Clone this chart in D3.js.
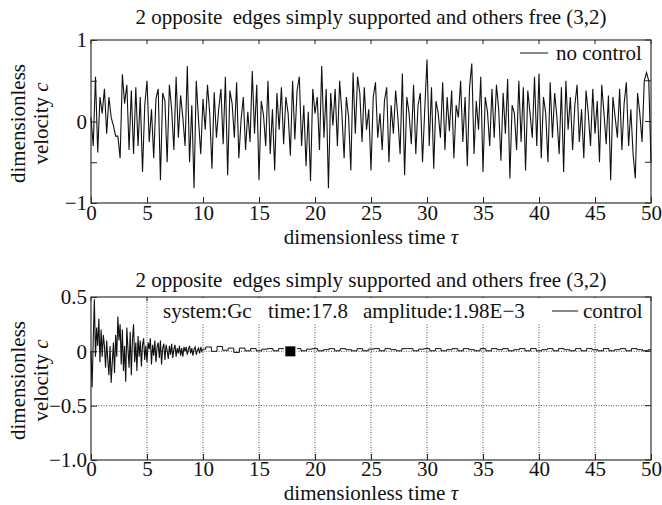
<!DOCTYPE html>
<html>
<head>
<meta charset="utf-8">
<script src="https://cdn.jsdelivr.net/npm/d3@7"></script>
<style>
  body { margin: 0; background: #fff; }
</style>
</head>
<body>
<svg id="chart" width="662" height="505"></svg>
<script>
// ---- data -------------------------------------------------------------
const panelTitle = "2 opposite\u00a0 edges simply supported and others free (3,2)";
const xTicks = [0, 5, 10, 15, 20, 25, 30, 35, 40, 45, 50];

const topYTicks = [-1, -0.5, 0, 0.5, 1];
const topYLabels = ["\u22121", "", "0", "", "1"];
const bottomYTicks = [-1, -0.5, 0, 0.5];
const bottomYLabels = ["\u22121.0", "\u22120.5", "0", "0.5"];

// uncontrolled response, sampled every 0.2 time units from 0 to 50
const noControlStep = 0.2;
const noControl = [
  0.05, -0.3, 0.55, -0.38, 0.3, 0.1, 0.4, -0.15, 0.3, 0.05,
  -0.05, -0.18, -0.18, -0.45, 0.58, 0.22, 0.45, -0.35, 0.38, -0.4,
  0.42, -0.3, 0.3, -0.62, 0.2, 0.5, -0.25, 0.15, -0.45, 0.28,
  0.4, -0.72, 0.35, 0.25, -0.5, 0.45, 0.15, -0.35, 0.55, -0.2,
  0.32, 0.05, -0.3, 0.68, -0.5, 0.2, -0.82, 0.5, 0.02, -0.4,
  0.28, -0.1, 0.45, 0.1, -0.58, 0.36, -0.2, 0.15, 0.4, -0.28,
  0.55, -0.66, 0.38, 0.22, -0.2, 0.48, -0.45, 0.02, 0.3, -0.35,
  0.12, -0.25, 0.62, -0.15, 0.45, -0.72, 0.25, 0.08, -0.3, 0.5,
  -0.4, 0.15, -0.6, 0.35, -0.1, 0.42, -0.28, 0.3, 0.1, -0.42,
  0.5, -0.22, 0.38, 0.55, -0.3, 0.2, -0.55, 0.12, -0.73, 0.4,
  0.1, 0.3, -0.35, 0.68, -0.2, 0.4, -0.82, 0.35, -0.05, 0.4,
  -0.3, 0.5, 0.1, -0.45, 0.3, 0.05, -0.6, 0.6, -0.15, 0.55,
  0.35, -0.25, 0.42, -0.1, 0.15, -0.6, 0.3, 0.48, -0.2, 0.1,
  -0.35, 0.25, 0.42, -0.5, 0.2, -0.15, 0.38, 0.05, -0.4, 0.59,
  -0.66, 0.3, 0.1, -0.28, 0.45, -0.4, 0.2, 0.35, -0.5, 0.15,
  0.76, -0.3, 0.42, -0.58, 0.25, 0.1, -0.2, 0.48, -0.35, 0.3,
  -0.12, 0.38, -0.45, 0.2, 0.05, 0.5, -0.25, 0.3, -0.55, 0.42,
  0.71, -0.4, 0.25, -0.1, 0.55, -0.62, 0.3, 0.12, -0.3, 0.4,
  -0.2, 0.45, 0.15, -0.48, 0.35, -0.15, 0.52, -0.7, 0.2, 0.1,
  -0.35, 0.5, -0.25, 0.42, -0.6, 0.38, 0.1, -0.2, 0.55, -0.3,
  0.59, -0.45, 0.3, 0.1, -0.5, 0.48, -0.2, 0.35, 0.05, -0.4,
  0.42, -0.62, 0.5, -0.1, 0.3, -0.35, 0.2, 0.45, -0.25, 0.15,
  -0.45, 0.38, 0.1, -0.3, 0.4, -0.15, 0.25, -0.5, 0.45, 0.1,
  -0.28, 0.32, -0.72, 0.3, 0.05, -0.2, 0.4, -0.35, 0.22, 0.48,
  -0.3, 0.15, -0.4, -0.7, 0.35, 0.1, -0.25, 0.5, 0.6, 0.5,
  -0.5
];

// controlled response: transient part every 0.1 from 0 to 10
const ctrlEarlyStep = 0.1;
const ctrlEarly = [
  0.0, -0.33, 0.1, 0.48, -0.05, 0.22, 0.05, 0.3, -0.1, 0.2,
  -0.05, 0.15, 0.05, -0.15, 0.1, -0.08, -0.22, 0.05, -0.29, -0.1,
  0.08, -0.2, 0.15, -0.05, 0.32, 0.1, 0.25, -0.12, 0.2, -0.18,
  0.05, -0.28, 0.22, 0.02, -0.15, 0.18, -0.22, 0.1, 0.25, -0.1,
  0.08, -0.18, 0.14, -0.05, 0.1, -0.14, 0.06, 0.12, -0.08, 0.05,
  -0.1, 0.08, 0.02, 0.12, -0.12, 0.06, -0.04, 0.1, -0.1, 0.04,
  0.08, -0.06, 0.1, -0.12, 0.03, 0.07, -0.08, 0.06, 0.01, -0.07,
  0.05, -0.03, 0.07, -0.06, 0.02, 0.06, -0.05, 0.03, -0.02, 0.05,
  -0.04, 0.03, -0.05, 0.04, 0.0, 0.04, -0.03, 0.02, 0.05, -0.02,
  0.03, -0.04, 0.02, 0.04, -0.03, 0.01, 0.03, -0.02, 0.04, 0.0,
  0.02
];
// residual part every 0.5 from 10 to 50
const ctrlLateStart = 10;
const ctrlLateStep = 0.5;
const ctrlLate = [
  0.02, 0.04, 0.0, 0.045, 0.01, 0.03, -0.01, 0.03, 0.005, 0.025,
  0.005, 0.02, 0.025, 0.005, 0.025, 0.015, 0.005, 0.025, 0.005, 0.02,
  0.025, 0.005, 0.015, 0.025, 0.005, 0.025, 0.015, 0.005, 0.025, 0.005,
  0.02, 0.025, 0.005, 0.025, 0.015, 0.005, 0.025, 0.025, 0.005, 0.02,
  0.025, 0.005, 0.025, 0.005, 0.015, 0.025, 0.005, 0.025, 0.015, 0.005,
  0.025, 0.005, 0.025, 0.015, 0.025, 0.005, 0.015, 0.025, 0.005, 0.025,
  0.005, 0.015, 0.025, 0.005, 0.025, 0.015, 0.005, 0.025, 0.005, 0.025,
  0.015, 0.005, 0.025, 0.005, 0.015, 0.025, 0.005, 0.025, 0.015, 0.005,
  0.015
];
const markerTime = 17.8;
const markerValue = 0;
const infoLabels = ["system:Gc", "time:17.8", "amplitude:1.98E\u22123"];
const topLegend = "no control";
const bottomLegend = "control";

// ---- layout -----------------------------------------------------------
const svg = d3.select("#chart");
const FS = 21;
const x = d3.scaleLinear([0, 50], [91, 651]);

const panels = [
  { y: d3.scaleLinear([-1, 1], [203, 40]), ticks: topYTicks, labels: topYLabels, titleY: 24, xlabDy: 41, tickPad: 2, grid: false },
  { y: d3.scaleLinear([-1, 0.5], [460, 297]), ticks: bottomYTicks, labels: bottomYLabels, titleY: 287, xlabDy: 40, tickPad: 1, grid: true }
];

function styleText(sel) {
  return sel.style("font-family", "'Liberation Serif'").style("font-size", FS + "px").style("fill", "#111");
}

function drawFrame(p) {
  const [y0, y1] = p.y.range();
  const g = svg.append("g");
  if (p.grid) {
    g.selectAll("line.gx").data(xTicks.slice(1, -1)).join("line")
      .attr("x1", d => x(d)).attr("x2", d => x(d))
      .attr("y1", y1).attr("y2", y0)
      .attr("stroke", "#222").attr("stroke-width", 0.8).attr("stroke-dasharray", "1,1.5");
    g.selectAll("line.gy").data(p.ticks.slice(1, -1)).join("line")
      .attr("x1", x(0)).attr("x2", x(50))
      .attr("y1", d => p.y(d)).attr("y2", d => p.y(d))
      .attr("stroke", "#222").attr("stroke-width", 0.8).attr("stroke-dasharray", "1,1.5");
  }
  // bottom axis with inward ticks
  const ax = svg.append("g").attr("transform", `translate(0,${y0})`)
    .call(d3.axisBottom(x).tickValues(xTicks).tickSizeInner(-6).tickSizeOuter(0).tickPadding(p.tickPad).tickFormat(d3.format("d")));
  ax.select(".domain").remove();
  ax.selectAll(".tick line").attr("stroke", "#222");
  styleText(ax.selectAll("text"));
  // top ticks
  svg.append("g").selectAll("line").data(xTicks).join("line")
    .attr("x1", d => x(d)).attr("x2", d => x(d)).attr("y1", y1).attr("y2", y1 + 4)
    .attr("stroke", "#222");
  // left axis
  const ay = svg.append("g").attr("transform", `translate(${x(0)},0)`)
    .call(d3.axisLeft(p.y).tickValues(p.ticks).tickSizeInner(-6).tickSizeOuter(0).tickPadding(4)
      .tickFormat((d, i) => p.labels[i]));
  ay.select(".domain").remove();
  ay.selectAll(".tick line").attr("stroke", "#222");
  styleText(ay.selectAll("text"));
  // right ticks
  svg.append("g").selectAll("line").data(p.ticks).join("line")
    .attr("x1", x(50)).attr("x2", x(50) - 6).attr("y1", d => p.y(d)).attr("y2", d => p.y(d))
    .attr("stroke", "#222");
  // box
  svg.append("rect").attr("x", x(0)).attr("y", y1).attr("width", x(50) - x(0)).attr("height", y0 - y1)
    .attr("fill", "none").attr("stroke", "#333").attr("stroke-width", 1.2);
  // title
  styleText(svg.append("text").attr("x", (x(0) + x(50)) / 2).attr("y", p.titleY)
    .attr("text-anchor", "middle").text(panelTitle));
  // x label
  const xl = styleText(svg.append("text").attr("x", (x(0) + x(50)) / 2).attr("y", y0 + p.xlabDy)
    .attr("text-anchor", "middle"));
  xl.append("tspan").text("dimensionless time ");
  xl.append("tspan").style("font-style", "italic").text("\u03c4");
  // y label (two lines)
  const cy = (y0 + y1) / 2 + 2;
  styleText(svg.append("text").attr("transform", `translate(25,${cy}) rotate(-90)`)
    .attr("text-anchor", "middle").text("dimensionless"));
  const yl = styleText(svg.append("text").attr("transform", `translate(48,${cy}) rotate(-90)`)
    .attr("text-anchor", "middle"));
  yl.append("tspan").text("velocity ");
  yl.append("tspan").style("font-style", "italic").text("c");
}

panels.forEach(drawFrame);

const line = (ys) => d3.line().x(d => x(d.t)).y(d => ys(d.v));

// top: uncontrolled signal
const topData = noControl.map((v, i) => ({ t: i * noControlStep, v }));
svg.append("path").datum(topData)
  .attr("d", line(panels[0].y))
  .attr("fill", "none").attr("stroke", "#111").attr("stroke-width", 1.1).attr("stroke-linejoin", "miter");

// top legend
svg.append("line").attr("x1", 520).attr("x2", 548).attr("y1", 53).attr("y2", 53).attr("stroke", "#111");
styleText(svg.append("text").attr("x", 556).attr("y", 60).text(topLegend));

// bottom: controlled signal
const yb = panels[1].y;
const earlyData = ctrlEarly.map((v, i) => ({ t: i * ctrlEarlyStep, v }));
const lateData = ctrlLate.map((v, i) => ({ t: ctrlLateStart + i * ctrlLateStep, v }));
svg.append("path").datum(earlyData)
  .attr("d", line(yb))
  .attr("fill", "none").attr("stroke", "#111").attr("stroke-width", 1.1);
svg.append("path").datum(lateData)
  .attr("d", line(yb).curve(d3.curveStep))
  .attr("fill", "none").attr("stroke", "#111").attr("stroke-width", 1);

// current-time marker
svg.append("rect")
  .attr("x", x(markerTime) - 5).attr("y", yb(markerValue) - 5).attr("width", 10).attr("height", 10)
  .attr("fill", "#000").attr("stroke", "#fff").attr("stroke-width", 3).attr("paint-order", "stroke");

// info line and legend on a white band
svg.append("rect").attr("x", 160).attr("y", 298).attr("width", 490).attr("height", 26).attr("fill", "#fff");
const infoX = [163, 268, 363];
infoLabels.forEach((s, i) => {
  styleText(svg.append("text").attr("x", infoX[i]).attr("y", 318).text(s));
});
svg.append("line").attr("x1", 552).attr("x2", 578).attr("y1", 311).attr("y2", 311).attr("stroke", "#111");
styleText(svg.append("text").attr("x", 583).attr("y", 318).text(bottomLegend));
</script>
</body>
</html>
